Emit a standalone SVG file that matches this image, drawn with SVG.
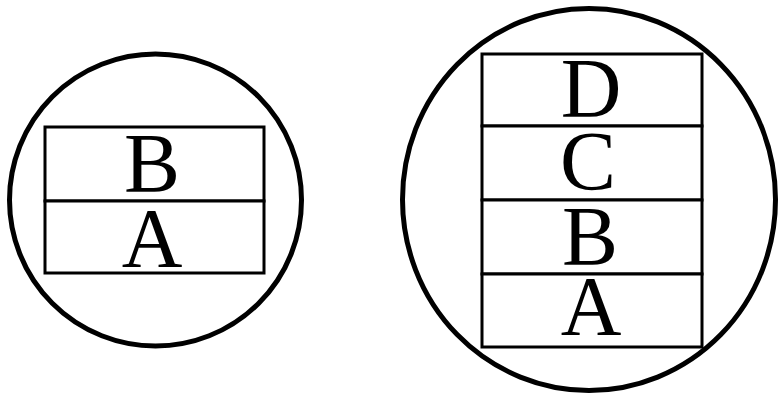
<svg xmlns="http://www.w3.org/2000/svg" width="778" height="394" viewBox="0 0 778 394">
  <style>
    .ring { fill: none; stroke: #000; stroke-width: 5; }
    .box { fill: #fff; stroke: #000; stroke-width: 3; }
    .lbl { font-family: "Liberation Serif", "Times New Roman", serif; font-size: 84px; fill: #000; text-anchor: middle; }
  </style>
  <rect width="778" height="394" fill="#fff"/>
  <g id="left-stack">
    <circle class="ring" cx="155.5" cy="200" r="146"/>
    <g id="left-B">
      <rect class="box" x="45" y="127" width="219" height="74"/>
      <text class="lbl" x="152" y="192">B</text>
    </g>
    <g id="left-A">
      <rect class="box" x="45" y="201" width="219" height="72"/>
      <text class="lbl" x="152" y="267">A</text>
    </g>
  </g>
  <g id="right-stack">
    <ellipse class="ring" cx="589" cy="199.5" rx="186.5" ry="191"/>
    <g id="right-D">
      <rect class="box" x="482" y="54" width="220" height="72"/>
      <text class="lbl" x="591" y="117">D</text>
    </g>
    <g id="right-C">
      <rect class="box" x="482" y="126" width="220" height="74"/>
      <text class="lbl" x="588" y="190">C</text>
    </g>
    <g id="right-B">
      <rect class="box" x="482" y="200" width="220" height="74"/>
      <text class="lbl" x="590" y="265">B</text>
    </g>
    <g id="right-A">
      <rect class="box" x="482" y="274" width="220" height="73"/>
      <text class="lbl" x="591" y="335">A</text>
    </g>
  </g>
  <g id="connectors"/>
</svg>
